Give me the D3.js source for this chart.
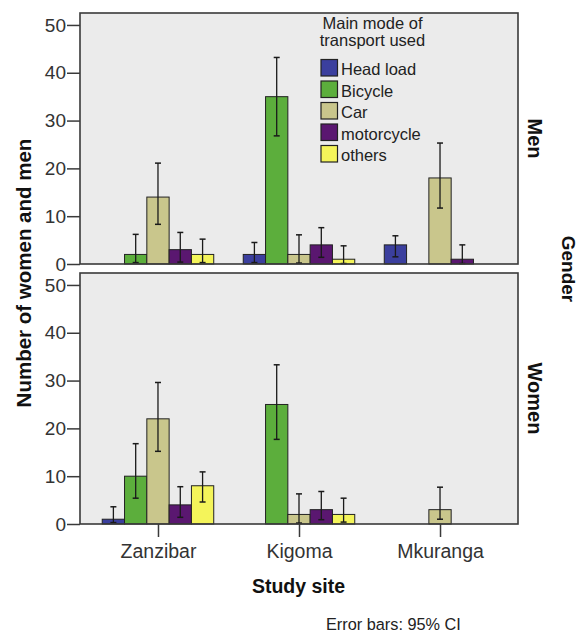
<!DOCTYPE html>
<html>
<head>
<meta charset="utf-8">
<script src="https://cdn.jsdelivr.net/npm/d3@7/dist/d3.min.js"></script>
<style>
  html, body { margin: 0; padding: 0; background: #ffffff; }
  svg { display: block; font-family: "Liberation Sans", Arial, sans-serif; }
</style>
</head>
<body>
<svg id="chart" width="579" height="633"></svg>
<script>
// ---------- data ----------
const sites = ["Zanzibar", "Kigoma", "Mkuranga"];
const modes = ["Head load", "Bicycle", "Car", "motorcycle", "others"];
const modeColors = ["#3b3f9e", "#5cae3c", "#c9c68c", "#5a1770", "#f4f45a"];
const genders = ["Men", "Women"];
const yTicks = [0, 10, 20, 30, 40, 50];

// rows = sites, columns = modes (null = no bar)
const menValues = [
  [null, 2, 14, 3, 2],
  [2, 35, 2, 4, 1],
  [4, null, 18, 1, null]
];
const menLow = [
  [null, 0.3, 8.3, 0.4, 0.3],
  [0.3, 26.8, 0.2, 1.4, 0.1],
  [1.5, null, 11.7, 0.1, null]
];
const menHigh = [
  [null, 6.2, 21.1, 6.6, 5.2],
  [4.5, 43.2, 6.1, 7.6, 3.8],
  [5.9, null, 25.3, 4.0, null]
];
const womenValues = [
  [1, 10, 22, 4, 8],
  [null, 25, 2, 3, 2],
  [null, null, 3, null, null]
];
const womenLow = [
  [0.3, 5.4, 15.2, 1.4, 4.6],
  [null, 17.7, 0.2, 0.9, 0.4],
  [null, null, 1.0, null, null]
];
const womenHigh = [
  [3.6, 16.8, 29.6, 7.8, 10.9],
  [null, 33.3, 6.3, 6.8, 5.4],
  [null, null, 7.7, null, null]
];

// ---------- layout ----------
const svg = d3.select("#chart");
const left = 80, right = 518;
const panels = [
  { name: genders[0], top: 13, bottom: 264, values: menValues, low: menLow, high: menHigh },
  { name: genders[1], top: 273, bottom: 524, values: womenValues, low: womenLow, high: womenHigh }
];

const x = d3.scalePoint().domain(sites).range([left, right]).padding(0.553);
const groupHalf = 55.75;
const xInner = d3.scaleBand().domain(modes).range([-groupHalf, groupHalf]).padding(0);
const color = d3.scaleOrdinal().domain(modes).range(modeColors);

const tickColor = "#333";
const frameColor = "#3a3a3a";

panels.forEach((p, pi) => {
  const y = d3.scaleLinear().domain([0, 52.5]).range([p.bottom, p.top]);
  const g = svg.append("g");

  // background
  g.append("rect")
    .attr("x", left).attr("y", p.top)
    .attr("width", right - left).attr("height", p.bottom - p.top)
    .attr("fill", "#ebebeb");

  // bars
  const rows = [];
  sites.forEach((s, si) => {
    modes.forEach((m, mi) => {
      const v = p.values[si][mi];
      if (v !== null) rows.push({ site: s, mode: m, v: v, lo: p.low[si][mi], hi: p.high[si][mi] });
    });
  });

  g.selectAll("rect.bar").data(rows).join("rect")
    .attr("class", "bar")
    .attr("x", d => x(d.site) + xInner(d.mode))
    .attr("y", d => y(d.v))
    .attr("width", xInner.bandwidth())
    .attr("height", d => y(0) - y(d.v))
    .attr("fill", d => color(d.mode))
    .attr("stroke", "#222")
    .attr("stroke-width", 1);

  // error bars
  const eb = g.selectAll("g.err").data(rows).join("g").attr("class", "err")
    .attr("transform", d => `translate(${x(d.site) + xInner(d.mode) + xInner.bandwidth() / 2},0)`);
  eb.append("line").attr("x1", 0).attr("x2", 0)
    .attr("y1", d => y(d.lo)).attr("y2", d => y(d.hi))
    .attr("stroke", "#1a1a1a").attr("stroke-width", 1.3);
  eb.append("line").attr("x1", -3).attr("x2", 3)
    .attr("y1", d => y(d.hi)).attr("y2", d => y(d.hi))
    .attr("stroke", "#1a1a1a").attr("stroke-width", 1.5);
  eb.append("line").attr("x1", -3).attr("x2", 3)
    .attr("y1", d => y(d.lo)).attr("y2", d => y(d.lo))
    .attr("stroke", "#1a1a1a").attr("stroke-width", 1.5);

  // frame
  g.append("rect")
    .attr("x", left).attr("y", p.top)
    .attr("width", right - left).attr("height", p.bottom - p.top)
    .attr("fill", "none").attr("stroke", frameColor).attr("stroke-width", 1.6);

  // y axis
  const yAxis = d3.axisLeft(y).tickValues(yTicks).tickSize(13).tickPadding(1).tickFormat(d3.format("d"));
  const ya = g.append("g").attr("transform", `translate(${left},0)`).call(yAxis);
  ya.select(".domain").remove();
  ya.selectAll(".tick line").attr("stroke", frameColor).attr("stroke-width", 1.5);
  ya.selectAll(".tick text").attr("fill", tickColor)
    .style("font-family", "'Liberation Sans', Arial, sans-serif").style("font-size", "19px");

  // facet label
  g.append("text")
    .attr("transform", `translate(528,${(p.top + p.bottom) / 2}) rotate(90)`)
    .attr("text-anchor", "middle")
    .attr("font-weight", "bold").attr("font-size", "20px").attr("fill", "#111")
    .text(p.name);

  // x axis only on bottom panel
  if (pi === panels.length - 1) {
    const xAxis = d3.axisBottom(x).tickSize(13).tickPadding(7);
    const xa = g.append("g").attr("transform", `translate(0,${p.bottom})`).call(xAxis);
    xa.select(".domain").remove();
    xa.selectAll(".tick line").attr("stroke", frameColor).attr("stroke-width", 1.5);
    xa.selectAll(".tick text").attr("fill", tickColor)
      .style("font-family", "'Liberation Sans', Arial, sans-serif").style("font-size", "19.5px");
  }
});

// legend (inside top panel)
const lg = svg.append("g");
lg.append("text").attr("x", 372.5).attr("y", 29).attr("text-anchor", "middle")
  .attr("font-size", "16.5px").attr("fill", "#222").text("Main mode of");
lg.append("text").attr("x", 372.5).attr("y", 46).attr("text-anchor", "middle")
  .attr("font-size", "16.5px").attr("fill", "#222").text("transport used");
const items = lg.selectAll("g.item").data(modes).join("g").attr("class", "item")
  .attr("transform", (d, i) => `translate(321,${59.5 + i * 21.5})`);
items.append("rect").attr("width", 16.5).attr("height", 16.5)
  .attr("fill", d => color(d)).attr("stroke", "#222").attr("stroke-width", 1.2);
items.append("text").attr("x", 20).attr("y", 15.5)
  .attr("font-size", "16.5px").attr("fill", "#222").text(d => d);

// axis titles
svg.append("text")
  .attr("transform", "translate(31,273) rotate(-90)")
  .attr("text-anchor", "middle").attr("font-weight", "bold").attr("font-size", "20.5px").attr("fill", "#111")
  .text("Number of women and men");
svg.append("text")
  .attr("x", 298.5).attr("y", 593).attr("text-anchor", "middle")
  .attr("font-weight", "bold").attr("font-size", "19.5px").attr("fill", "#111")
  .text("Study site");
svg.append("text")
  .attr("transform", "translate(562,269) rotate(90)")
  .attr("text-anchor", "middle").attr("font-weight", "bold").attr("font-size", "19px").attr("fill", "#111")
  .text("Gender");
svg.append("text")
  .attr("x", 326).attr("y", 630)
  .attr("font-size", "16.3px").attr("fill", "#222")
  .text("Error bars: 95% CI");
</script>
</body>
</html>
